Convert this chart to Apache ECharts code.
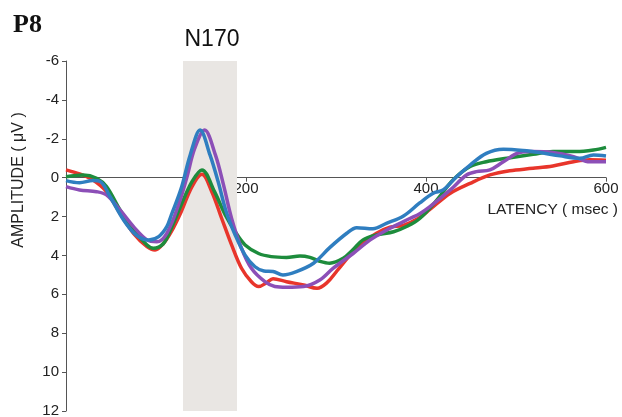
<!DOCTYPE html>
<html>
<head>
<meta charset="utf-8">
<script src="https://cdn.jsdelivr.net/npm/echarts@6/dist/echarts.min.js"></script>
<style>
html,body{margin:0;padding:0;background:#fff;}
#chart{width:622px;height:417px;}
</style>
</head>
<body>
<div id="chart"></div>
<script>
// Latency (ms), amplitude (µV) pairs per condition
const greenWave = [[0,-0.05],[19,-0.14],[34,0.03],[45,0.46],[60,1.66],[75,2.69],[90,3.46],[97,3.63],[108,3.4],[117,2.6],[128,1.4],[140,0.2],[151,-0.4],[165,0.72],[177,1.92],[188,2.78],[199,3.46],[214,3.9],[228,4.06],[245,4.1],[260,4.03],[271,4.1],[282,4.3],[293,4.4],[308,4.15],[319,3.7],[330,3.2],[345,2.95],[364,2.78],[379,2.5],[393,2.1],[412,1.15],[430,0.12],[449,-0.57],[467,-0.82],[490,-1.0],[519,-1.2],[541,-1.34],[567,-1.34],[586,-1.42],[600,-1.56]];
const redWave = [[0,-0.4],[15,-0.19],[30,0.12],[45,0.72],[60,1.83],[75,2.86],[90,3.55],[99,3.72],[108,3.4],[117,2.78],[128,1.75],[140,0.46],[151,-0.17],[162,0.72],[173,2.1],[184,3.46],[195,4.66],[206,5.35],[214,5.6],[223,5.4],[230,5.2],[245,5.35],[264,5.52],[279,5.69],[290,5.4],[301,4.8],[319,3.8],[330,3.35],[345,2.86],[360,2.55],[375,2.45],[393,2.05],[404,1.65],[427,0.8],[449,0.29],[471,-0.14],[493,-0.36],[519,-0.48],[541,-0.6],[564,-0.82],[582,-0.92],[600,-0.9]];
const purpleWave = [[0,0.46],[15,0.63],[34,0.72],[45,0.89],[60,1.66],[75,2.52],[90,3.2],[101,3.3],[112,2.86],[125,1.4],[134,0.03],[143,-1.5],[154,-2.45],[166,-1.17],[175,0.37],[184,2.1],[195,3.63],[206,4.66],[221,5.35],[232,5.6],[245,5.64],[264,5.6],[282,5.26],[297,4.65],[319,3.9],[338,3.2],[356,2.7],[375,2.26],[382,2.1],[393,1.85],[404,1.5],[427,0.63],[445,-0.14],[456,-0.31],[471,-0.4],[486,-0.82],[504,-1.29],[519,-1.34],[541,-1.29],[564,-1.08],[582,-0.82],[600,-0.82]];
const blueWave = [[0,0.15],[15,0.26],[30,0.15],[38,0.2],[49,0.98],[64,2.18],[78,2.95],[92,3.2],[103,3.03],[112,2.52],[117,1.92],[128,0.55],[138,-1.17],[149,-2.45],[160,-1.17],[169,0.2],[178,1.75],[188,2.95],[199,3.98],[210,4.58],[220,4.8],[230,4.83],[241,5.0],[256,4.83],[275,4.4],[293,3.6],[312,2.86],[323,2.57],[341,2.63],[356,2.35],[375,1.97],[393,1.3],[408,0.8],[419,0.63],[434,-0.05],[449,-0.65],[467,-1.25],[486,-1.46],[508,-1.4],[527,-1.29],[549,-1.12],[571,-1.0],[586,-1.17],[600,-1.12]];
const n170Window = [130, 190];
const xTicks = [0, 200, 400, 600];
const yRange = [-6, 12];

const gridTop = 61, gridBottom = 6, H = 417;
const plotH = H - gridTop - gridBottom;
// distance from grid bottom up to the amplitude-zero line
const zeroOffset = plotH * (yRange[1] - 0) / (yRange[1] - yRange[0]);

const chart = echarts.init(document.getElementById('chart'), null, {renderer:'canvas'});
const font = 'Liberation Sans, Arial, sans-serif';
const lineW = 3.5;
function mk(name, data, color, z, withArea){
  const s = {
    name, type:'line', data, smooth:0.35, showSymbol:false, z,
    lineStyle:{color, width:lineW}, itemStyle:{color}, animation:false
  };
  if (withArea) {
    s.markArea = {
      silent:true, z:1,
      itemStyle:{color:'#e9e6e3'},
      data:[[{xAxis:n170Window[0]},{xAxis:n170Window[1]}]]
    };
  }
  return s;
}
chart.setOption({
  animation:false,
  backgroundColor:'#fff',
  grid:{left:66, right:16, top:gridTop, bottom:gridBottom, outerBoundsMode:'none', containLabel:false},
  xAxis:{
    type:'value', position:'bottom', offset:-zeroOffset,
    min:xTicks[0], max:xTicks[xTicks.length-1], interval:200,
    axisLine:{onZero:false, lineStyle:{color:'#555', width:1}},
    axisTick:{show:true, inside:false, length:4, lineStyle:{color:'#555'}},
    axisLabel:{color:'#222', fontSize:15, fontFamily:font, margin:4,
      formatter:v => v === 0 ? '' : String(v)},
    splitLine:{show:false}
  },
  yAxis:{
    type:'value', inverse:true, min:yRange[0], max:yRange[1], interval:2,
    axisLine:{show:true, onZero:false, lineStyle:{color:'#555', width:1}},
    axisTick:{show:true, length:4, lineStyle:{color:'#555'}},
    axisLabel:{color:'#222', fontSize:15, fontFamily:font, margin:7},
    splitLine:{show:false}
  },
  graphic:[
    {type:'text', left:13, top:12, style:{text:'P8', font:'bold 26px "Liberation Serif", "Times New Roman", serif', fill:'#111'}},
    {type:'text', x:212, y:40, style:{text:'N170', font:'23px ' + font, fill:'#111', align:'center', verticalAlign:'middle'}},
    {type:'text', x:618, y:210, style:{text:'LATENCY ( msec )', font:'15.5px ' + font, fill:'#222', align:'right', verticalAlign:'middle'}},
    {type:'text', x:19, y:180, rotation:Math.PI/2, style:{text:'AMPLITUDE ( μV )', font:'16px ' + font, fill:'#222', align:'center', verticalAlign:'middle'}}
  ],
  series:[
    mk('red', redWave, '#e8352b', 3, true),
    mk('green', greenWave, '#1d8c3c', 4, false),
    mk('purple', purpleWave, '#8c4fb7', 5, false),
    mk('blue', blueWave, '#2f7ec0', 6, false)
  ]
});
</script>
</body>
</html>
